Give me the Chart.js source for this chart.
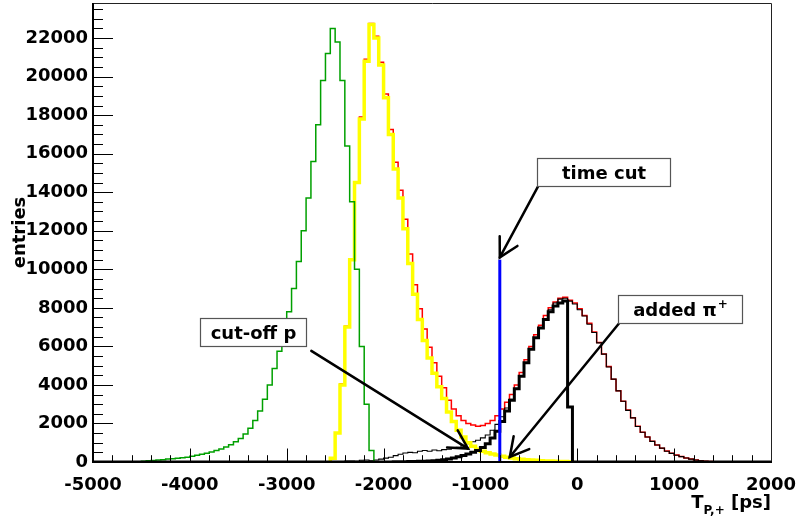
<!DOCTYPE html>
<html><head><meta charset="utf-8">
<script src="https://cdn.jsdelivr.net/npm/chart.js@4.4.0/dist/chart.umd.min.js"></script>
<style>html,body{margin:0;padding:0;background:#fff;overflow:hidden}#wrap{width:796px;height:525px}</style>
</head><body><div id="wrap"><canvas id="c" width="796" height="525"></canvas></div>
<script>
// ---- axis ranges / ticks ----
const X_MIN = -5000, X_MAX = 2000, Y_MAX = 23820;
const BIN_WIDTH = 50;
const xTickValues = [-5000, -4000, -3000, -2000, -1000, 0, 1000, 2000];
const yTickValues = [0, 2000, 4000, 6000, 8000, 10000, 12000, 14000, 16000, 18000, 20000, 22000];
const X_MINOR_STEP = 200, Y_MINOR_STEP = 500;

// ---- histograms: first bin left edge + bin contents (50 ps bins) ----
const greenStart = -4500;
const greenCounts = [40,60,80,100,120,150,170,200,220,250, 300,350,400,450,520,600,680,780,900,1050,
  1220,1450,1750,2150,2650,3250,4000,4850,5750,6700, 7800,9000,10400,12000,13700,15600,17500,19800,21200,22500,
  21800,19800,16400,13500,10000,6000,3000,600];

const yellowStart = -2550;
const yellowCounts = [200,1500,4000,7000,10500,14500,17800,20800,22700,22000,
  20600,18900,17000,15200,13700,12100,10300,8700,7400,6300,
  5400,4600,3900,3300,2600,2100,1650,1300,1000,820,
  660,560,480,420,360,300,250,210,175,145,
  120,100,85,70,58,48,40,32,25,15];

const redStart = -2550;
const redCounts = [200,1500,4050,7050,10550,14550,17900,20900,22750,22100,
  20750,19100,17250,15550,14100,12600,10800,9200,7950,6900,
  5950,5150,4450,3850,3200,2750,2400,2150,2000,1920,
  1850,1900,2000,2150,2400,2750,3100,3500,4000,4650,
  5300,6000,6600,7100,7600,8000,8300,8500,8550,8400,
  8250,7950,7600,7200,6750,6200,5600,4950,4300,3700,
  3150,2700,2300,1850,1550,1300,1080,880,720,570,
  450,360,280,210,150,100,65,40,25,15,10,5];

const thinBlackStart = -2400;
const thinBlackCounts = [50,50,40,90,100,60,100,150,200,250,
  330,400,470,500,480,560,600,560,620,580,
  640,660,700,760,850,950,1050,1130,1250,1400,
  1650,1950,2350,2800,3250,3800,4450,5150,5850,6450,
  6950,7450,7900,8250,8450,8500,8350,8200,
  7900,7580,7150,6720,6180,5600,4930,4300,3690,3150,
  2680,2290,1840,1540,1300,1070,880,720,560,450,
  350,280,210,150,100,65,40,25,15,10,5];

const thickBlackStart = -1900;
const thickBlackCounts = [10,12,15,20,25,35,45,55,70,90,
  120,160,210,270,340,420,500,600,750,950,
  1250,1600,2100,2650,3200,3800,4450,5150,5850,6450,
  6950,7400,7800,8100,8250,8350,2860];

// ---- time cut line ----
const timeCutX = -800;
const timeCutTop = 10500;

// ---- annotations (data coordinates) ----
const boxTexts = ['time cut', 'cut-off p', 'added \u03c0'];
const boxSup   = ['', '', '+'];
const boxX0 = [-421, -3900, 422];
const boxX1 = [956, -2797, 1697];
const boxYTop = [15765, 7482, 8662];
const boxYBot = [14325, 6012, 7191];
const arrowFromX = [-402, -2746, 430];
const arrowFromY = [14325, 5768, 7191];
const arrowToX = [-800, -1128, -697];
const arrowToY = [10620, 696, 260];

function histPoints(start, counts, fullRange) {
  const pts = fullRange ? [{x: X_MIN, y: 0}] : [{x: start, y: 0}];
  counts.forEach((v, i) => pts.push({x: start + i * BIN_WIDTH, y: v}));
  pts.push({x: start + counts.length * BIN_WIDTH, y: 0});
  if (fullRange) pts.push({x: X_MAX, y: 0});
  return pts;
}

function hist(label, start, counts, color, width, fullRange) {
  return {label, data: histPoints(start, counts, fullRange), borderColor: color, borderWidth: width,
    stepped: 'before', pointRadius: 0, fill: false, tension: 0};
}

const FONT = 'DejaVu Sans';

const rootPlugin = {
  id: 'rootDecor',
  afterDatasetsDraw(chart) {
    const ctx = chart.ctx, a = chart.chartArea;
    const xs = chart.scales.x, ys = chart.scales.y;
    ctx.save();
    ctx.strokeStyle = '#000';
    // ticks (inward)
    ctx.lineWidth = 1;
    ctx.beginPath();
    for (let v = X_MIN; v <= X_MAX + 1e-6; v += X_MINOR_STEP) {
      const px = Math.round(xs.getPixelForValue(v)) + 0.5;
      const major = xTickValues.includes(v);
      const len = major ? 13.5 : 6.8;
      ctx.moveTo(px, a.bottom); ctx.lineTo(px, a.bottom - len);
    }
    for (let v = 0; v <= Y_MAX; v += Y_MINOR_STEP) {
      const py = Math.round(ys.getPixelForValue(v)) + 0.5;
      const major = yTickValues.includes(v);
      const len = major ? 20 : 10;
      ctx.moveTo(a.left, py); ctx.lineTo(a.left + len, py);
    }
    ctx.stroke();
    // frame
    ctx.lineWidth = 1;
    ctx.strokeStyle = '#222';
    ctx.beginPath();
    ctx.moveTo(a.left, a.top + 0.5); ctx.lineTo(a.right + 0.5, a.top + 0.5);
    ctx.lineTo(a.right + 0.5, a.bottom);
    ctx.stroke();
    ctx.strokeStyle = '#000';
    ctx.lineWidth = 2;
    ctx.beginPath();
    ctx.moveTo(a.left, a.top); ctx.lineTo(a.left, a.bottom);
    ctx.lineTo(a.right + 1, a.bottom);
    ctx.stroke();

    // arrows
    ctx.lineWidth = 2.5;
    ctx.strokeStyle = '#000';
    ctx.lineCap = 'round';
    for (let i = 0; i < arrowFromX.length; i++) {
      const x1 = xs.getPixelForValue(arrowFromX[i]), y1 = ys.getPixelForValue(arrowFromY[i]);
      const x2 = xs.getPixelForValue(arrowToX[i]), y2 = ys.getPixelForValue(arrowToY[i]);
      ctx.beginPath(); ctx.moveTo(x1, y1); ctx.lineTo(x2, y2); ctx.stroke();
      const ang = Math.atan2(y1 - y2, x1 - x2), h = 0.5, L = 21;
      ctx.beginPath();
      ctx.moveTo(x2 + L * Math.cos(ang + h), y2 + L * Math.sin(ang + h));
      ctx.lineTo(x2, y2);
      ctx.lineTo(x2 + L * Math.cos(ang - h), y2 + L * Math.sin(ang - h));
      ctx.stroke();
    }
    // boxes
    for (let i = 0; i < boxTexts.length; i++) {
      const bx0 = Math.round(xs.getPixelForValue(boxX0[i])) + 0.5;
      const bx1 = Math.round(xs.getPixelForValue(boxX1[i])) + 0.5;
      const by0 = Math.round(ys.getPixelForValue(boxYTop[i])) + 0.5;
      const by1 = Math.round(ys.getPixelForValue(boxYBot[i])) + 0.5;
      ctx.fillStyle = '#fff';
      ctx.fillRect(bx0, by0, bx1 - bx0, by1 - by0);
      ctx.lineWidth = 1.2;
      ctx.strokeStyle = '#555';
      ctx.strokeRect(bx0, by0, bx1 - bx0, by1 - by0);
      ctx.fillStyle = '#000';
      ctx.font = 'bold 18px "' + FONT + '"';
      ctx.textBaseline = 'alphabetic';
      ctx.textAlign = 'left';
      const w1 = ctx.measureText(boxTexts[i]).width;
      ctx.font = 'bold 12px "' + FONT + '"';
      const w2 = boxSup[i] ? ctx.measureText(boxSup[i]).width + 1 : 0;
      const cx = (bx0 + bx1) / 2, cy = (by0 + by1) / 2;
      const left = cx - (w1 + w2) / 2;
      const base = cy + 6.5;
      ctx.font = 'bold 18px "' + FONT + '"';
      ctx.fillText(boxTexts[i], left, base);
      if (boxSup[i]) {
        ctx.font = 'bold 12px "' + FONT + '"';
        ctx.fillText(boxSup[i], left + w1 + 1, base - 8);
      }
    }
    // axis titles
    ctx.fillStyle = '#000';
    ctx.font = 'bold 18px "' + FONT + '"';
    ctx.textBaseline = 'alphabetic';
    const tW = ctx.measureText('T').width;
    const psW = ctx.measureText(' [ps]').width;
    ctx.font = 'bold 12px "' + FONT + '"';
    const subW = ctx.measureText('P,+').width;
    const right = a.right;
    let xx = right - psW - subW - tW;
    ctx.font = 'bold 18px "' + FONT + '"';
    ctx.fillText('T', xx, 508);
    ctx.font = 'bold 12px "' + FONT + '"';
    ctx.fillText('P,+', xx + tW, 514);
    ctx.font = 'bold 18px "' + FONT + '"';
    ctx.fillText(' [ps]', xx + tW + subW, 508);

    ctx.save();
    ctx.translate(25, (a.top + a.bottom) / 2);
    ctx.rotate(-Math.PI / 2);
    ctx.textAlign = 'center';
    ctx.fillText('entries', 0, 0);
    ctx.restore();
    ctx.restore();
  }
};

new Chart(document.getElementById('c'), {
  type: 'line',
  data: {
    datasets: [
      {label: 'time cut', data: [{x: timeCutX, y: 0}, {x: timeCutX, y: timeCutTop}],
        borderColor: '#0000ff', borderWidth: 3, pointRadius: 0, fill: false},
      hist('cut-off p', thickBlackStart, thickBlackCounts, '#000000', 3, true),
      hist('green', greenStart, greenCounts, '#00a000', 1.5, true),
      hist('yellow', yellowStart, yellowCounts, '#ffff00', 3.5, false),
      hist('black', thinBlackStart, thinBlackCounts, '#000000', 1.1, false),
      hist('red', redStart, redCounts, '#ff0000', 1.5, false)
    ]
  },
  options: {
    responsive: false, animation: false, devicePixelRatio: 1,
    layout: {padding: {top: 3, right: 25, left: 0, bottom: 0}},
    plugins: {legend: {display: false}, tooltip: {enabled: false}},
    scales: {
      x: {
        type: 'linear', min: X_MIN, max: X_MAX,
        grid: {display: false, drawTicks: false}, border: {display: false},
        afterFit(s) { s.height = 63; s.paddingLeft = 0; s.paddingRight = 0; },
        afterBuildTicks(s) { s.ticks = xTickValues.map(v => ({value: v})); },
        ticks: {autoSkip: false, maxRotation: 0, padding: 13, color: '#000',
          font: {family: FONT, weight: 'bold', size: 18},
          callback: v => String(v)}
      },
      y: {
        type: 'linear', min: 0, max: Y_MAX,
        grid: {display: false, drawTicks: false}, border: {display: false},
        afterFit(s) { s.width = 93; s.paddingTop = 0; s.paddingBottom = 0; },
        afterBuildTicks(s) { s.ticks = yTickValues.map(v => ({value: v})); },
        ticks: {autoSkip: false, padding: 5, color: '#000',
          font: {family: FONT, weight: 'bold', size: 18},
          callback: v => String(v)}
      }
    }
  },
  plugins: [rootPlugin]
});
</script></body></html>
